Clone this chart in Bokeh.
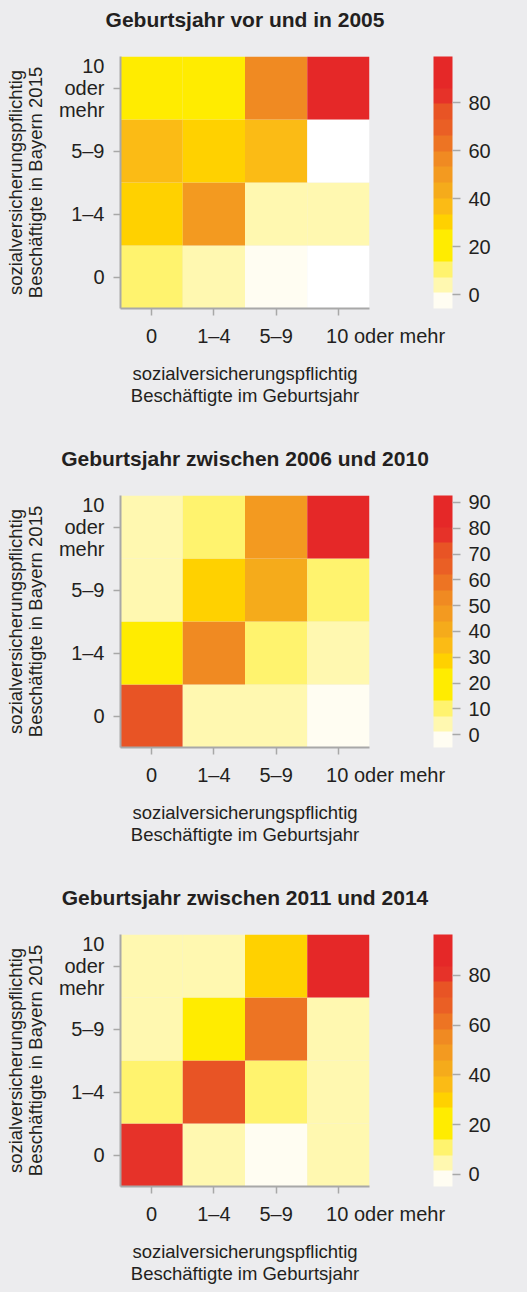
import math
from bokeh.plotting import figure
from bokeh.layouts import column
from bokeh.models import (ColumnDataSource, LinearColorMapper, ColorBar, FixedTicker,
                          SingleIntervalTicker, Range1d)
from bokeh.embed import file_html
from bokeh.resources import INLINE

NaN = float("nan")

# ---------------- data ----------------
x_cats = ["0", "1–4", "5–9", "10 oder mehr"]
y_cats = ["0", "1–4", "5–9", "10\noder\nmehr"]

titles = ["Geburtsjahr vor und in 2005",
          "Geburtsjahr zwischen 2006 und 2010",
          "Geburtsjahr zwischen 2011 und 2014"]

# rows: y category (bottom -> top), columns: x category
values_2005 = [
    [10, 4, 0, NaN],
    [30, 50, 4, 4],
    [37, 30, 37, NaN],
    [20, 22, 57, 97],
]
values_2010 = [
    [71, 4, 4, 0],
    [20, 53, 10, 4],
    [4, 28, 41, 10],
    [4, 10, 47, 90],
]
values_2014 = [
    [81, 4, 0, 4],
    [10, 74, 10, 4],
    [4, 20, 61, 4],
    [4, 4, 30, 94],
]

scale_low = [-5.8, -5.0, -4.9]
scale_high = [99.2, 92.7, 96.4]
bar_tick_step = [20, 10, 20]

palette = ["#fffdf2", "#fff8b0", "#fff36e", "#ffec00", "#ffec00", "#ffd100",
           "#fbbb15", "#f5ab1b", "#f39a20", "#f08a22", "#ed7423", "#ea5f25",
           "#e85425", "#e63229", "#e52828", "#e52828"]

x_title = "sozialversicherungspflichtig\nBeschäftigte im Geburtsjahr"
y_title = "sozialversicherungspflichtig\nBeschäftigte in Bayern 2015"

BG = "#ececee"
TXT = "#231f20"
AX = "#a8a8a8"
FONT = "Liberation Sans"
NBSP = "\u00a0"


def make_panel(title, values, low, high, step, top, bottom):
    xs, ys, vs = [], [], []
    for yi, row in enumerate(values):
        for xi, v in enumerate(row):
            xs.append(xi)
            ys.append(yi)
            vs.append(v)
    src = ColumnDataSource(dict(x=xs, y=ys, v=vs))
    mapper = LinearColorMapper(palette=palette, low=low, high=high, nan_color="white")

    p = figure(frame_width=249, frame_height=252,
               min_border_left=120, min_border_right=158,
               min_border_top=top, min_border_bottom=bottom,
               x_range=Range1d(-0.5, len(x_cats) - 0.5),
               y_range=Range1d(-0.5, len(y_cats) - 0.5),
               output_backend="svg", toolbar_location=None,
               background_fill_color=BG, border_fill_color=BG,
               outline_line_color=None)
    p.rect(x="x", y="y", width=1, height=1, source=src,
           fill_color={"field": "v", "transform": mapper}, line_color=None)

    p.grid.visible = False
    p.title.text = title
    p.title.align = "center"
    p.title.text_font = FONT
    p.title.text_font_size = "21px"
    p.title.text_font_style = "bold"
    p.title.text_color = TXT
    p.title.text_line_height = 1.0
    p.title.standoff = 10
    p.title.padding = dict(left=0, right=0, top=0, bottom=21)

    for ax in (p.xaxis[0], p.yaxis[0]):
        ax.axis_line_color = AX
        ax.axis_line_width = 2
        ax.major_tick_line_color = AX
        ax.major_tick_line_width = 1.5
        ax.major_tick_out = 7
        ax.major_tick_in = 0
        ax.minor_tick_line_color = None
        ax.major_label_text_font = FONT
        ax.major_label_text_font_size = "20px"
        ax.major_label_text_color = TXT
        ax.axis_label_text_font = FONT
        ax.axis_label_text_font_size = "18.5px"
        ax.axis_label_text_font_style = "normal"
        ax.axis_label_text_color = TXT

    xa = p.xaxis[0]
    xa.ticker = FixedTicker(ticks=list(range(len(x_cats))))
    # the last label starts just left of its tick and runs to the right
    labels = {i: c for i, c in enumerate(x_cats)}
    labels[len(x_cats) - 1] = NBSP * 17 + x_cats[-1]
    xa.major_label_overrides = labels
    xa.major_label_standoff = 9
    xa.axis_label = x_title
    xa.axis_label_standoff = 13
    xa.axis_label_text_line_height = 1.05

    ya = p.yaxis[0]
    ya.ticker = FixedTicker(ticks=list(range(len(y_cats))))
    ya.major_label_overrides = {i: c for i, c in enumerate(y_cats)}
    ya.major_label_standoff = 9
    ya.major_label_text_line_height = 1.0
    ya.axis_label = y_title
    ya.axis_label_standoff = 10
    ya.axis_label_text_line_height = 0.95

    cb = ColorBar(color_mapper=mapper, location=(313, 0), width=19, height=252,
                  padding=0, margin=0,
                  ticker=SingleIntervalTicker(interval=step),
                  major_tick_in=0, major_tick_out=8,
                  major_tick_line_color=AX, major_tick_line_width=1.5,
                  minor_tick_line_color=None,
                  label_standoff=8,
                  major_label_text_font=FONT, major_label_text_font_size="20px",
                  major_label_text_color=TXT,
                  bar_line_color=None, border_line_color=None,
                  background_fill_alpha=0)
    p.add_layout(cb)
    return p


p1 = make_panel(titles[0], values_2005, scale_low[0], scale_high[0], bar_tick_step[0], 54, 131)
p2 = make_panel(titles[1], values_2010, scale_low[1], scale_high[1], bar_tick_step[1], 54, 131)
p3 = make_panel(titles[2], values_2014, scale_low[2], scale_high[2], bar_tick_step[2], 53, 111)

layout = column(p1, p2, p3, spacing=0)

html = file_html(layout, INLINE)
html = html.replace("</head>",
                    "<style>html, body { background-color: %s; }</style></head>" % BG, 1)
open("out.html", "w").write(html)
